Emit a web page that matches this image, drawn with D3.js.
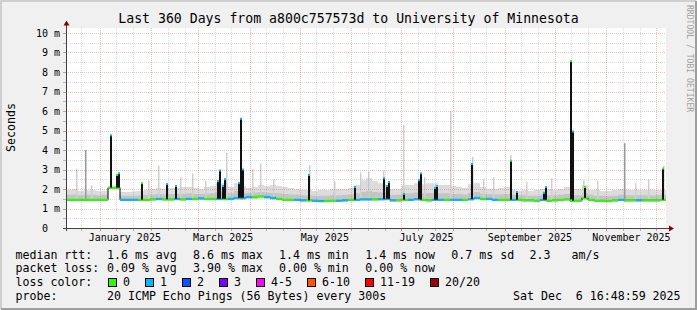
<!DOCTYPE html>
<html>
<head>
<meta charset="utf-8">
<script src="https://cdn.jsdelivr.net/npm/d3@7/dist/d3.min.js"></script>
<style>
  body { margin: 0; background: #f0f0f0; }
  svg text { font-family: "DejaVu Sans Mono", monospace; white-space: pre; }
</style>
</head>
<body>
<svg id="chart" width="697" height="310"></svg>
<script>
// time span of the graph (360 days ending at the "now" stamp)
var startTime = Date.UTC(2024, 11, 11, 16, 48, 59);
var endTime = Date.UTC(2025, 11, 6, 16, 48, 59);
var stepDays = 3.6;   // one consolidated sample every 3.6 days

// median rtt (ms) per sample
var medianRtt = [
  1.45, 1.45, 1.45, 1.45, 1.45, 1.45, 1.45, 2.07, 2.07, 1.45,
  1.45, 1.45, 1.45, 1.45, 1.47, 1.50, 1.47, 1.47, 1.50, 1.47,
  1.50, 1.50, 1.52, 1.50, 1.50, 1.50, 1.50, 1.50, 1.55, 1.55,
  1.60, 1.60, 1.62, 1.60, 1.55, 1.50, 1.45, 1.45, 1.45, 1.42,
  1.42, 1.40, 1.38, 1.38, 1.40, 1.40, 1.42, 1.45, 1.45, 1.47,
  1.47, 1.47, 1.48, 1.50, 1.42, 1.42, 1.45, 1.45, 1.48, 1.45,
  1.42, 1.45, 1.45, 1.45, 1.45, 1.45, 1.45, 1.48, 1.55, 1.50,
  1.50, 1.45, 1.45, 1.45, 1.45, 1.45, 1.42, 1.42, 1.40, 1.45,
  1.40, 1.42, 1.45, 1.47, 1.40, 1.40, 1.55, 1.45, 1.40, 1.40,
  1.38, 1.42, 1.45, 1.42, 1.42, 1.42, 1.42, 1.42, 1.42, 1.45
];
// loss class index per sample (0 = no loss, 1 = 1/20 lost)
var lossClass = [
  0, 0, 0, 0, 0, 0, 0, 0, 0, 1,
  1, 1, 0, 0, 0, 1, 0, 0, 1, 0,
  1, 0, 1, 0, 0, 1, 0, 1, 1, 1,
  1, 0, 0, 1, 1, 0, 0, 0, 1, 1,
  0, 1, 1, 0, 0, 1, 1, 0, 1, 1,
  1, 0, 1, 1, 1, 0, 0, 1, 1, 0,
  0, 1, 1, 0, 1, 1, 0, 1, 1, 0,
  1, 1, 0, 0, 1, 0, 0, 0, 0, 1,
  0, 0, 0, 0, 0, 0, 0, 0, 0, 0,
  0, 0, 1, 0, 0, 1, 0, 0, 0, 0
];
// smoke: lowest ping, inner band top, outer band top (ms)
var smokeLow = [
  1.38, 1.38, 1.38, 1.38, 1.38, 1.38, 1.38, 2.00, 2.00, 1.38,
  1.38, 1.38, 1.38, 1.38, 1.40, 1.42, 1.40, 1.40, 1.42, 1.40,
  1.42, 1.42, 1.44, 1.42, 1.42, 1.42, 1.42, 1.42, 1.46, 1.46,
  1.50, 1.50, 1.52, 1.50, 1.46, 1.42, 1.38, 1.38, 1.38, 1.35,
  1.35, 1.33, 1.32, 1.32, 1.33, 1.33, 1.35, 1.38, 1.38, 1.40,
  1.40, 1.40, 1.41, 1.42, 1.35, 1.35, 1.38, 1.38, 1.41, 1.38,
  1.35, 1.38, 1.38, 1.38, 1.38, 1.38, 1.38, 1.41, 1.46, 1.42,
  1.42, 1.38, 1.38, 1.38, 1.38, 1.38, 1.35, 1.35, 1.33, 1.38,
  1.33, 1.35, 1.38, 1.40, 1.33, 1.33, 1.46, 1.38, 1.33, 1.33,
  1.32, 1.35, 1.38, 1.35, 1.35, 1.35, 1.35, 1.35, 1.35, 1.38
];
var smokeMid = [
  1.70, 1.72, 1.68, 1.70, 1.70, 1.68, 1.70, 2.09, 2.10, 1.65,
  1.65, 1.66, 1.68, 1.70, 1.72, 1.75, 1.72, 1.74, 1.75, 1.75,
  1.78, 1.75, 1.74, 1.76, 1.78, 1.85, 1.85, 1.78, 1.90, 1.80,
  1.80, 1.82, 1.85, 1.82, 1.80, 1.78, 1.75, 1.72, 1.70, 1.68,
  1.68, 1.65, 1.65, 1.65, 1.68, 1.68, 1.70, 1.72, 1.78, 1.85,
  1.90, 1.85, 1.82, 1.80, 1.70, 1.70, 1.78, 1.78, 1.82, 1.78,
  1.80, 1.80, 1.78, 1.78, 1.75, 1.74, 1.72, 1.80, 1.85, 1.76,
  1.74, 1.72, 1.72, 1.74, 1.70, 1.68, 1.68, 1.66, 1.66, 1.70,
  1.68, 1.68, 1.70, 1.75, 1.68, 1.68, 1.80, 1.70, 1.66, 1.65,
  1.64, 1.66, 1.70, 1.68, 1.68, 1.68, 1.68, 1.68, 1.68, 1.70
];
var smokeHigh = [
  1.95, 2.00, 1.90, 1.92, 1.95, 1.90, 1.92, 2.12, 2.15, 1.85,
  1.85, 1.88, 1.90, 1.95, 2.00, 2.05, 2.02, 2.05, 2.05, 2.10,
  2.10, 2.05, 2.00, 2.10, 2.15, 2.30, 2.30, 2.10, 2.30, 2.15,
  2.05, 2.10, 2.20, 2.15, 2.20, 2.15, 2.10, 2.05, 2.00, 1.95,
  1.95, 1.90, 1.95, 1.95, 2.00, 2.00, 2.00, 2.05, 2.20, 2.45,
  2.55, 2.40, 2.30, 2.20, 2.00, 2.00, 2.20, 2.20, 2.30, 2.25,
  2.30, 2.30, 2.20, 2.20, 2.15, 2.10, 2.05, 2.25, 2.30, 2.10,
  2.00, 2.00, 2.05, 2.10, 1.95, 1.90, 1.95, 1.90, 1.95, 2.00,
  2.00, 1.95, 2.00, 2.10, 2.00, 2.00, 2.20, 1.95, 1.95, 1.90,
  1.90, 1.95, 2.00, 1.95, 1.95, 1.95, 1.95, 1.95, 1.95, 1.95
];

// short median excursions (day offset, peak ms, loss class at the peak)
var spikeDay = [26.4, 30.0, 31.2, 45.0, 60.0, 65.4, 90.6, 91.8, 93.6, 94.8,
                103.2, 104.4, 105.6, 145.2, 172.8, 190.2, 192.0, 193.2, 202.2, 211.2,
                212.4, 220.8, 222.0, 243.0, 266.4, 270.0, 286.2, 287.4, 302.4, 303.6,
                310.8, 357.6];
var spikeTop = [4.75, 2.72, 2.80, 2.30, 2.25, 2.15, 2.40, 2.95, 2.15, 2.50,
                2.30, 5.60, 3.00, 2.72, 2.10, 2.55, 2.15, 2.35, 1.75, 2.45,
                2.80, 2.05, 2.15, 3.28, 3.45, 1.85, 1.80, 2.10, 8.56, 4.95,
                2.10, 3.05];
var spikeLoss = [1, 0, 1, 0, 1, 1, 1, 1, 1, 1,
                 1, 1, 1, 1, 1, 1, 1, 1, 1, 1,
                 1, 1, 1, 1, 0, 1, 1, 1, 0, 1,
                 0, 0];

// single outlier pings in the smoke (day offset, top ms, dark shade?)
var outlierDay = [6.0, 11.4, 49.2, 55.2, 75.6, 83.4, 96.0, 105.0, 111.6, 116.4,
                  145.8, 181.2, 190.2, 202.2, 230.4, 243.6, 256.2, 266.4, 291.0, 310.2,
                  334.8, 349.2, 358.2, 15.0, 68.4, 124.2, 160.8, 176.4, 214.8, 250.2,
                  276.0, 318.6, 341.4];
var outlierTop = [3.05, 4.00, 2.45, 3.20, 2.80, 2.40, 3.85, 3.00, 3.00, 3.30,
                  3.25, 2.90, 2.95, 5.30, 6.00, 3.65, 2.60, 3.75, 2.55, 2.45,
                  4.35, 2.50, 3.20, 2.20, 2.60, 2.50, 2.40, 2.85, 2.60, 2.50,
                  2.35, 2.40, 2.30];
var outlierDark = [0, 1, 0, 0, 0, 0, 0, 1, 0, 0,
                   0, 0, 0, 0, 0, 0, 0, 0, 0, 0,
                   1, 0, 0, 0, 0, 0, 0, 0, 0, 0,
                   0, 0, 0];

var yTicks = [0, 1, 2, 3, 4, 5, 6, 7, 8, 9, 10];
var yTickLabels = ["0  ", "1 m", "2 m", "3 m", "4 m", "5 m", "6 m", "7 m", "8 m", "9 m", "10 m"];
var monthLabels = ["January 2025", "March 2025", "May 2025", "July 2025", "September 2025", "November 2025"];
var monthLabelDays = ["2025-01-16", "2025-03-16", "2025-05-16", "2025-07-16", "2025-09-16", "2025-11-16"];

var lossLabels = ["0", "1", "2", "3", "4-5", "6-10", "11-19", "20/20"];
var lossColors = ["#26ff00", "#00b8ff", "#0059ff", "#7e00ff", "#ff00ff", "#ff5500", "#ff0000", "#a10000"];
var rttStats = ["1.6 ms avg", "8.6 ms max", "1.4 ms min", "1.4 ms now", "0.7 ms sd", "2.3   am/s"];
var lossStats = ["0.09 % avg", "3.90 % max", "0.00 % min", "0.00 % now"];
var probeText = "20 ICMP Echo Pings (56 Bytes) every 300s";
var stampText = "Sat Dec  6 16:48:59 2025";
var titleText = "Last 360 Days from a800c757573d to University of Minnesota";

var W = 697, H = 310;
var plotLeft = 66, plotRight = 666, plotTop = 28, plotBottom = 228;

var svg = d3.select('#chart');

function dayDate(d) { return new Date(startTime + d * 864e5); }

var x = d3.scaleUtc().domain([new Date(startTime), new Date(endTime)]).range([plotLeft, plotRight]);
var y = d3.scaleLinear().domain([0, 10]).range([plotBottom, 33]);

// background and shaded frame
svg.append('rect').attr('width', W).attr('height', H).attr('fill', '#f0f0f0');
svg.append('path').attr('d', 'M1,' + (H - 1) + 'V1H' + (W - 1)).attr('stroke', '#cfcfcf').attr('stroke-width', 2).attr('fill', 'none');
svg.append('path').attr('d', 'M1,' + (H - 1) + 'H' + (W - 1) + 'V1').attr('stroke', '#9e9e9e').attr('stroke-width', 2).attr('fill', 'none');

svg.append('rect').attr('x', plotLeft).attr('y', plotTop).attr('width', plotRight - plotLeft).attr('height', plotBottom - plotTop).attr('fill', '#ffffff');

svg.append('clipPath').attr('id', 'plotclip')
  .append('rect').attr('x', plotLeft).attr('y', plotTop).attr('width', plotRight - plotLeft).attr('height', plotBottom - plotTop);

var smokeG = svg.append('g').attr('clip-path', 'url(#plotclip)');
var gridG = svg.append('g');
var lineG = svg.append('g').attr('clip-path', 'url(#plotclip)');

// sample records
var samples = medianRtt.map(function(m, i) {
  return { day: i * stepDays, median: m, loss: lossClass[i], lo: smokeLow[i], mid: smokeMid[i], hi: smokeHigh[i] };
});
var last = samples[samples.length - 1];
var stepped = samples.concat([{ day: 360, median: last.median, loss: last.loss, lo: last.lo, mid: last.mid, hi: last.hi }]);

// smoke
var outerArea = d3.area().curve(d3.curveStepAfter)
  .x(function(d) { return x(dayDate(d.day)); })
  .y0(function(d) { return y(d.lo); })
  .y1(function(d) { return y(d.hi); });
var innerArea = d3.area().curve(d3.curveStepAfter)
  .x(function(d) { return x(dayDate(d.day)); })
  .y0(function(d) { return y(d.lo); })
  .y1(function(d) { return y(d.mid); });

smokeG.append('path').datum(stepped).attr('d', outerArea).attr('fill', '#dcdcdc');
smokeG.append('path').datum(stepped).attr('d', innerArea).attr('fill', '#c4c4c4');

// outlier pings
smokeG.selectAll('rect.outlier')
  .data(outlierDay.map(function(d, i) { return { day: d, top: outlierTop[i], dark: outlierDark[i] }; }))
  .enter().append('rect')
  .attr('class', 'outlier')
  .attr('x', function(d) { return x(dayDate(d.day)); })
  .attr('width', 1.5)
  .attr('y', function(d) { return y(d.top); })
  .attr('height', function(d) { return y(smokeLow[Math.floor(d.day / stepDays)]) - y(d.top); })
  .attr('fill', function(d) { return d.dark ? '#9a9a9a' : '#cfcfcf'; });

// grid
var majorMonths = d3.utcMonth.range(new Date(startTime), new Date(endTime));
var minorDays = [];
d3.utcMonth.range(d3.utcMonth.floor(new Date(startTime)), new Date(endTime)).forEach(function(m) {
  [11, 21].forEach(function(dd) {
    var t = Date.UTC(m.getUTCFullYear(), m.getUTCMonth(), dd);
    if (t > startTime && t < endTime) minorDays.push(new Date(t));
  });
});
var minorColor = 'rgba(150,150,150,0.32)';
var majorColor = 'rgba(222,95,95,0.38)';

minorDays.forEach(function(t) {
  var xx = Math.round(x(t)) + 0.5;
  gridG.append('line').attr('x1', xx).attr('x2', xx).attr('y1', plotTop).attr('y2', plotBottom)
    .attr('stroke', minorColor).attr('stroke-dasharray', '1,1');
  gridG.append('line').attr('x1', xx).attr('x2', xx).attr('y1', plotBottom).attr('y2', plotBottom + 3)
    .attr('stroke', '#b8b8b8');
});
majorMonths.forEach(function(t) {
  var xx = Math.round(x(t)) + 0.5;
  gridG.append('line').attr('x1', xx).attr('x2', xx).attr('y1', plotTop).attr('y2', plotBottom)
    .attr('stroke', majorColor).attr('stroke-dasharray', '1,1');
  gridG.append('line').attr('x1', xx).attr('x2', xx).attr('y1', plotBottom).attr('y2', plotBottom + 3)
    .attr('stroke', '#e89090');
});
d3.range(0.5, 10.5, 0.5).forEach(function(v) {
  var yy = Math.round(y(v)) + 0.5;
  var major = (v % 1 === 0);
  gridG.append('line').attr('x1', plotLeft).attr('x2', plotRight).attr('y1', yy).attr('y2', yy)
    .attr('stroke', major ? majorColor : minorColor).attr('stroke-dasharray', '1,1');
  gridG.append('line').attr('x1', plotLeft - 3).attr('x2', plotLeft).attr('y1', yy).attr('y2', yy)
    .attr('stroke', major ? '#e89090' : '#b8b8b8');
});

// median line: black transitions, loss-coloured levels
lineG.append('path').datum(stepped)
  .attr('d', d3.line().curve(d3.curveStepAfter)
    .x(function(d) { return x(dayDate(d.day)); })
    .y(function(d) { return y(d.median); }))
  .attr('fill', 'none').attr('stroke', '#000').attr('stroke-width', 1);

lineG.selectAll('line.level').data(samples).enter().append('line')
  .attr('class', 'level')
  .attr('x1', function(d) { return x(dayDate(d.day)); })
  .attr('x2', function(d) { return x(dayDate(d.day + stepDays)); })
  .attr('y1', function(d) { return y(d.median); })
  .attr('y2', function(d) { return y(d.median); })
  .attr('stroke', function(d) { return lossColors[d.loss]; })
  .attr('stroke-width', 2);

// spikes
var spikes = spikeDay.map(function(d, i) {
  return { day: d, top: spikeTop[i], loss: spikeLoss[i], base: medianRtt[Math.floor(d / stepDays)] };
});
lineG.selectAll('path.spike').data(spikes).enter().append('path')
  .attr('class', 'spike')
  .attr('d', function(d) {
    var x0 = Math.round(x(dayDate(d.day))) + 0.5;
    return 'M' + x0 + ',' + y(d.base) + 'V' + y(d.top) + 'H' + (x0 + 1) + 'V' + y(d.base);
  })
  .attr('fill', 'none').attr('stroke', '#111').attr('stroke-width', 1);
lineG.selectAll('rect.spiketop').data(spikes).enter().append('rect')
  .attr('class', 'spiketop')
  .attr('x', function(d) { return Math.round(x(dayDate(d.day))); })
  .attr('width', 2)
  .attr('y', function(d) { return y(d.top) - 1; })
  .attr('height', 2)
  .attr('fill', function(d) { return lossColors[d.loss]; });

// axes
svg.append('line').attr('x1', plotLeft + 0.5).attr('x2', plotLeft + 0.5).attr('y1', plotBottom + 3).attr('y2', 24)
  .attr('stroke', '#404040');
svg.append('line').attr('x1', plotLeft - 3).attr('x2', plotRight + 4).attr('y1', plotBottom + 0.5).attr('y2', plotBottom + 0.5)
  .attr('stroke', '#404040');
svg.append('path').attr('d', 'M' + (plotLeft - 2.5) + ',25.5L' + (plotLeft + 0.5) + ',20.5L' + (plotLeft + 3.5) + ',25.5Z')
  .attr('fill', '#8b0000');
svg.append('path').attr('d', 'M' + (plotRight + 3) + ',' + (plotBottom - 2.5) + 'L' + (plotRight + 8) + ',' + (plotBottom + 0.5) + 'L' + (plotRight + 3) + ',' + (plotBottom + 3.5) + 'Z')
  .attr('fill', '#8b0000');

// y tick labels
svg.selectAll('text.ylab').data(yTicks).enter().append('text')
  .attr('class', 'ylab')
  .attr('x', plotLeft - 6)
  .attr('y', function(d) { return y(d) + 3.6; })
  .attr('text-anchor', 'end')
  .attr('font-size', '10px')
  .attr('fill', '#000')
  .text(function(d, i) { return yTickLabels[i]; });

// x labels
svg.selectAll('text.xlab').data(monthLabels).enter().append('text')
  .attr('class', 'xlab')
  .attr('x', function(d, i) { return x(new Date(monthLabelDays[i] + 'T00:00:00Z')); })
  .attr('y', 241)
  .attr('text-anchor', 'middle')
  .attr('font-size', '10px')
  .text(function(d) { return d; });

// title and side texts
svg.append('text').attr('x', W / 2).attr('y', 23).attr('text-anchor', 'middle')
  .attr('font-size', '13.2px').text(titleText);
svg.append('text').attr('transform', 'translate(15,127.5) rotate(-90)').attr('text-anchor', 'middle')
  .attr('font-size', '11.6px').text('Seconds');
svg.append('text').attr('transform', 'translate(687,5) rotate(90)').attr('text-anchor', 'start')
  .attr('font-size', '8.1px').attr('fill', '#a0a0a0').text('RRDTOOL / TOBI OETIKER');

// legend
var legend = svg.append('g').attr('font-size', '11.6px');
var rowY = [258.8, 272.4, 286.0, 299.6];
var statX = [107, 193, 279, 365.3, 451.3, 529.6];

legend.append('text').attr('x', 15.5).attr('y', rowY[0]).text('median rtt:');
legend.selectAll('text.rtt').data(rttStats).enter().append('text')
  .attr('x', function(d, i) { return statX[i]; }).attr('y', rowY[0]).text(function(d) { return d; });

legend.append('text').attr('x', 15.5).attr('y', rowY[1]).text('packet loss:');
legend.selectAll('text.loss').data(lossStats).enter().append('text')
  .attr('x', function(d, i) { return statX[i]; }).attr('y', rowY[1]).text(function(d) { return d; });

legend.append('text').attr('x', 15.5).attr('y', rowY[2]).text('loss color:');
var boxX = [108.5, 145.5, 182.5, 219.5, 256.5, 307.5, 365.5, 430.5];
var lossItems = legend.selectAll('g.lossitem').data(lossLabels).enter().append('g').attr('class', 'lossitem');
lossItems.append('rect')
  .attr('x', function(d, i) { return boxX[i]; }).attr('y', 278.5)
  .attr('width', 8).attr('height', 8)
  .attr('fill', function(d, i) { return lossColors[i]; })
  .attr('stroke', '#000').attr('stroke-width', 1);
lossItems.append('text')
  .attr('x', function(d, i) { return boxX[i] + 14.5; }).attr('y', rowY[2])
  .text(function(d) { return d; });

legend.append('text').attr('x', 15.5).attr('y', rowY[3]).text('probe:');
legend.append('text').attr('x', 107).attr('y', rowY[3]).text(probeText);
legend.append('text').attr('x', 513).attr('y', rowY[3]).text(stampText);
</script>
</body>
</html>
